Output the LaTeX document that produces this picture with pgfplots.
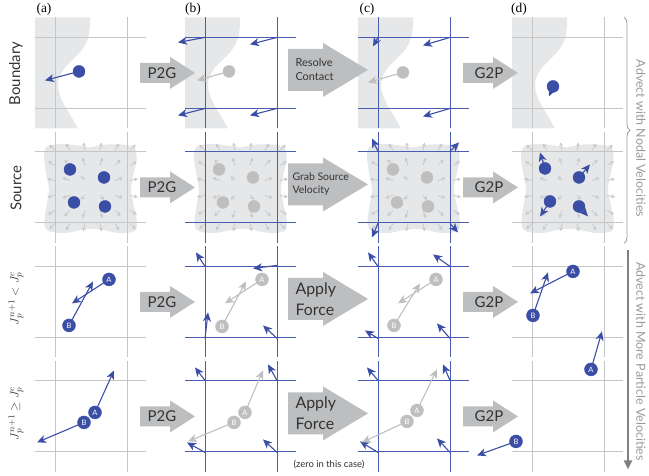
\documentclass[border=0pt]{standalone}
\usepackage{pgfplots}
\pgfplotsset{compat=1.18}
\usepackage{pgfplotstable}
\usepackage{fontspec}
\setmainfont{Lato}
\newfontfamily\seriffont{Liberation Serif}
\usetikzlibrary{arrows.meta,decorations.pathreplacing}
\definecolor{pblue}{HTML}{3B4EA6}
\definecolor{gblue}{HTML}{4A5CB0}
\definecolor{shapeg}{HTML}{E6E7E8}
\definecolor{gridg}{HTML}{C6C6C6}
\definecolor{pgray}{HTML}{BFBFBF}
\definecolor{bigg}{HTML}{BDBEC0}
\definecolor{fieldg}{HTML}{C8C9CA}
\definecolor{txtg}{HTML}{9A9A9A}
\definecolor{darkt}{HTML}{333333}

\pgfplotstableread{
x y
35 17
90 17
90 25
89 35
85 45
80 52
72 60
65 67
60 75
58 82
58.5 90
61 98
65 106
70 114
74 121
78 128
35 128
}\bshape

\pgfplotstableread{
x y
90 147
108 144
126 144.5
135 148
136.5 160
133 176
131 190
134 206
137 222
134 231
118 232.5
100 229
84 229
66 232.5
49 231
44.5 224
46 208
49 190
46 172
44 156
47 146
62 143.5
76 145
90 147
}\blob

\pgfplotstableread{
x y u v
55 150 -5.66 -5.66
70 150 -4.12 -6.86
85 150 -1.57 -7.84
100 150 1.57 -7.84
115 150 4.12 -6.86
130 150 5.66 -5.66
55 165 -6.86 -4.12
70 165 -5.66 -5.66
85 165 -2.53 -7.59
100 165 2.53 -7.59
115 165 5.66 -5.66
130 165 6.86 -4.12
55 180 -7.84 -1.57
70 180 -7.59 -2.53
85 180 -4.2 -4.2
100 180 4.2 -4.2
115 180 7.59 -2.53
130 180 7.84 -1.57
55 195 -7.84 1.57
70 195 -7.59 2.53
85 195 -4.2 4.2
100 195 4.2 4.2
115 195 7.59 2.53
130 195 7.84 1.57
55 210 -6.86 4.12
70 210 -5.66 5.66
85 210 -2.53 7.59
100 210 2.53 7.59
115 210 5.66 5.66
130 210 6.86 4.12
55 223 -5.66 5.66
70 223 -4.12 6.86
85 223 -1.57 7.84
100 223 1.57 7.84
115 223 4.12 6.86
130 223 5.66 5.66
}\field

\pgfplotstableread{
x y
140 -10
170 -10
170 -16
195 0
170 16
170 10
140 10
}\sarrow

\pgfplotstableread{
x y
288 -21
323 -21
323 -27
368 0
323 27
323 21
288 21
}\marrow

\newcommand{\gridp}[3]{%
\addplot[#1, mark=none, line width=0.9bp] table[row sep=\\, x expr=\thisrow{x}+#2, y expr=\thisrow{y}+#3] {x y\\55 17\\55 128\\};
\addplot[#1, mark=none, line width=0.9bp] table[row sep=\\, x expr=\thisrow{x}+#2, y expr=\thisrow{y}+#3] {x y\\127 17\\127 128\\};
\addplot[#1, mark=none, line width=0.9bp] table[row sep=\\, x expr=\thisrow{x}+#2, y expr=\thisrow{y}+#3] {x y\\35 37\\146 37\\};
\addplot[#1, mark=none, line width=0.9bp] table[row sep=\\, x expr=\thisrow{x}+#2, y expr=\thisrow{y}+#3] {x y\\35 108\\146 108\\};
}
\newcommand{\bshapep}[1]{%
\addplot[fill=shapeg, draw=none, mark=none] table[x expr=\thisrow{x}+#1, y=y] {\bshape};}
\newcommand{\blobp}[1]{%
\addplot[fill=shapeg, draw=none, mark=none, smooth] table[x expr=\thisrow{x}+#1, y=y] {\blob};
\addplot[fieldg, line width=0.8bp, mark=none, quiver={u=\thisrow{u}, v=\thisrow{v}, every arrow/.append style={-{Stealth[length=3.8bp,width=4.2bp]}}}] table[x expr=\thisrow{x}+#1, y=y] {\field};}
\newcommand{\smallarrow}[2]{%
\addplot[fill=bigg, draw=none, mark=none] table[x expr=\thisrow{x}+#1, y expr=\thisrow{y}+#2] {\sarrow};}
\newcommand{\midarrow}[1]{%
\addplot[fill=bigg, draw=none, mark=none] table[x=x, y expr=\thisrow{y}+#1] {\marrow};}

\pgfplotsset{
 barr/.style={pblue, mark=none, line width=1.1bp, -{Stealth[length=9bp,width=8bp,inset=2.5bp]}},
 garr/.style={pgray, mark=none, line width=1.1bp, -{Stealth[length=9bp,width=8bp,inset=2.5bp]}},
 bdot/.style={pblue, only marks, mark=*, mark size=6bp},
 gdot/.style={pgray, only marks, mark=*, mark size=6bp},
 lab/.style={only marks, mark=*, mark size=6.5bp, nodes near coords, point meta=explicit symbolic, nodes near coords align=center, every node near coord/.append style={text=white, font=\fontsize{7.5}{8}\selectfont, inner sep=0pt, anchor=center}},
}

\begin{document}
\begin{tikzpicture}
\begin{axis}[scale only axis, width=649bp, height=475bp, xmin=0, xmax=649, ymin=0, ymax=475, y dir=reverse, hide axis, clip=false]
\addplot[draw=none, mark=none] coordinates {(0,0) (649,475)};

% ---------- row 1: Boundary ----------
\bshapep{0}\bshapep{150}\bshapep{323}\bshapep{477}
\gridp{gridg}{0}{0}\gridp{gblue}{150}{0}\gridp{gblue}{323}{0}\gridp{gridg}{477}{0}
\smallarrow{0}{72.5}\smallarrow{323}{72.5}\midarrow{69.5}
\addplot[barr] coordinates {(79,71) (45,80)};
\addplot[barr] coordinates {(205,37) (178,42)};
\addplot[barr] coordinates {(277,37) (250,44)};
\addplot[barr] coordinates {(205,108) (178,115)};
\addplot[barr] coordinates {(277,108) (250,115)};
\addplot[garr] coordinates {(229,71) (197,80)};
\addplot[barr] coordinates {(378,37) (373,46)};
\addplot[barr] coordinates {(450,37) (423,45)};
\addplot[barr] coordinates {(450,108) (423,116)};
\addplot[garr] coordinates {(403,72) (368,82)};
\addplot[barr] coordinates {(553,86) (549,96)};
\addplot[bdot] coordinates {(79,71) (553,86)};
\addplot[gdot] coordinates {(229,71) (403,72)};

% ---------- row 2: Source ----------
\blobp{0}\blobp{150}\blobp{323}\blobp{477}
\gridp{gridg}{0}{114.5}\gridp{gblue}{150}{114.5}\gridp{gblue}{323}{114.5}\gridp{gridg}{477}{114.5}
\smallarrow{0}{187}\smallarrow{323}{187}\midarrow{184}
\addplot[barr] coordinates {(378,151) (372,138)};
\addplot[barr] coordinates {(450,151) (459,142)};
\addplot[barr] coordinates {(378,223) (372,237)};
\addplot[barr] coordinates {(450,223) (458,232)};
\addplot[barr] coordinates {(545,168) (540,152)};
\addplot[barr] coordinates {(579,177) (590,164)};
\addplot[barr] coordinates {(550,201) (540,216)};
\addplot[barr] coordinates {(579,206) (588,216)};
\addplot[bdot] coordinates {(70,169) (104,177) (74,202) (105,206) (545,168) (579,177) (550,201) (579,206)};
\addplot[gdot] coordinates {(219,169) (253,177) (223,202) (254,206) (393,169) (427,177) (397,202) (428,206)};

% ---------- row 3 ----------
\gridp{gridg}{0}{229}\gridp{gblue}{150}{229}\gridp{gblue}{323}{229}\gridp{gridg}{477}{229}
\smallarrow{0}{301.5}\smallarrow{323}{301.5}\midarrow{298.5}
\addplot[barr] coordinates {(69,325) (93,281)};
\addplot[barr] coordinates {(109,279) (72,303)};
\addplot[barr] coordinates {(205,266) (196,252)};
\addplot[barr] coordinates {(277,265) (253,268)};
\addplot[barr] coordinates {(205,338) (208,312)};
\addplot[barr] coordinates {(277,338) (263,325)};
\addplot[garr] coordinates {(222,326) (246,281)};
\addplot[garr] coordinates {(262,279) (225,303)};
\addplot[barr] coordinates {(378,266) (368,252)};
\addplot[barr] coordinates {(450,266) (433,254)};
\addplot[barr] coordinates {(378,338) (365,330)};
\addplot[barr] coordinates {(450,338) (437,323)};
\addplot[garr] coordinates {(394,325) (420,283)};
\addplot[garr] coordinates {(436,279) (398,303)};
\addplot[barr] coordinates {(533,315) (548,272)};
\addplot[barr] coordinates {(573,271) (530,293)};
\addplot[pblue, lab] table[row sep=\\, meta=l] {x y l\\109 279 A\\69 325 B\\573 271 A\\533 315 B\\};
\addplot[pgray, lab] table[row sep=\\, meta=l] {x y l\\262 279 A\\222 326 B\\436 279 A\\394 325 B\\};

% ---------- row 4 ----------
\gridp{gridg}{0}{343.5}\gridp{gblue}{150}{343.5}\gridp{gblue}{323}{343.5}\gridp{gridg}{477}{343.5}
\smallarrow{0}{416}\smallarrow{323}{416}\midarrow{413}
\addplot[barr] coordinates {(95,412) (114,370)};
\addplot[barr] coordinates {(84,422) (37,442)};
\addplot[barr] coordinates {(205,380) (195,367)};
\addplot[barr] coordinates {(277,380) (268,364)};
\addplot[barr] coordinates {(205,452) (187,442)};
\addplot[barr] coordinates {(277,452) (263,439)};
\addplot[garr] coordinates {(245,412) (263,370)};
\addplot[garr] coordinates {(234,422) (188,441)};
\addplot[barr] coordinates {(378,380) (367,367)};
\addplot[barr] coordinates {(450,380) (443,364)};
\addplot[barr] coordinates {(378,452) (360,441)};
\addplot[barr] coordinates {(450,452) (437,438)};
\addplot[garr] coordinates {(417,410) (437,369)};
\addplot[garr] coordinates {(407,421) (362,442)};
\addplot[barr] coordinates {(591,369) (602,331)};
\addplot[barr] coordinates {(516,441) (477,455)};
\addplot[pblue, lab] table[row sep=\\, meta=l] {x y l\\95 412 A\\84 422 B\\591 369 A\\516 441 B\\};
\addplot[pgray, lab] table[row sep=\\, meta=l] {x y l\\245 412 A\\234 422 B\\417 410 A\\407 421 B\\};

% ---------- right annotations ----------
\addplot[txtg, mark=none, line width=0.8bp, decorate, decoration={brace, amplitude=6bp}] coordinates {(624,17) (624,243)};
\addplot[gray, mark=none, line width=2.8bp, -{Triangle[length=9bp,width=8bp]}] coordinates {(628,250) (628,469)};

% ---------- texts ----------
\node[font=\seriffont\fontsize{13.5}{15}\selectfont] at (axis cs:44,9) {(a)};
\node[font=\seriffont\fontsize{13.5}{15}\selectfont] at (axis cs:193,9) {(b)};
\node[font=\seriffont\fontsize{13.5}{15}\selectfont] at (axis cs:367,9) {(c)};
\node[font=\seriffont\fontsize{13.5}{15}\selectfont] at (axis cs:519,9) {(d)};
\node[rotate=90, text=darkt, font=\fontsize{15}{18}\selectfont] at (axis cs:16,73) {Boundary};
\node[rotate=90, text=darkt, font=\fontsize{15}{18}\selectfont] at (axis cs:16,188) {Source};
\node[rotate=90, text=darkt, font=\fontsize{13}{15}\selectfont] at (axis cs:16,298) {$J_p^{n+1} < J_p^c$};
\node[rotate=90, text=darkt, font=\fontsize{13}{15}\selectfont] at (axis cs:16,413) {$J_p^{n+1} \geq J_p^c$};
\node[text=darkt, font=\fontsize{15}{18}\selectfont] at (axis cs:162,72.5) {P2G};
\node[text=darkt, font=\fontsize{15}{18}\selectfont] at (axis cs:162,187) {P2G};
\node[text=darkt, font=\fontsize{15}{18}\selectfont] at (axis cs:162,301.5) {P2G};
\node[text=darkt, font=\fontsize{15}{18}\selectfont] at (axis cs:162,416) {P2G};
\node[text=darkt, font=\fontsize{15}{18}\selectfont] at (axis cs:489,72.5) {G2P};
\node[text=darkt, font=\fontsize{15}{18}\selectfont] at (axis cs:489,187) {G2P};
\node[text=darkt, font=\fontsize{15}{18}\selectfont] at (axis cs:489,301.5) {G2P};
\node[text=darkt, font=\fontsize{15}{18}\selectfont] at (axis cs:489,416) {G2P};
\node[anchor=west, align=left, text=darkt, font=\fontsize{11}{14}\selectfont] at (axis cs:292,69.5) {Resolve\\Contact};
\node[anchor=west, align=left, text=darkt, font=\fontsize{10.5}{13}\selectfont] at (axis cs:289,184) {Grab Source\\Velocity};
\node[anchor=west, align=left, text=darkt, font=\fontsize{16}{21}\selectfont] at (axis cs:292,298.5) {Apply\\Force};
\node[anchor=west, align=left, text=darkt, font=\fontsize{16}{21}\selectfont] at (axis cs:292,413) {Apply\\Force};
\node[text=darkt, font=\fontsize{9.5}{11}\selectfont] at (axis cs:329,464) {(zero in this case)};
\node[rotate=-90, text=txtg, font=\fontsize{12.5}{14}\selectfont] at (axis cs:641,138) {Advect with Nodal Velocities};
\node[rotate=-90, text=txtg, font=\fontsize{12.5}{14}\selectfont] at (axis cs:641,361) {Advect with More Particle Velocities};
\end{axis}
\end{tikzpicture}
\end{document}
